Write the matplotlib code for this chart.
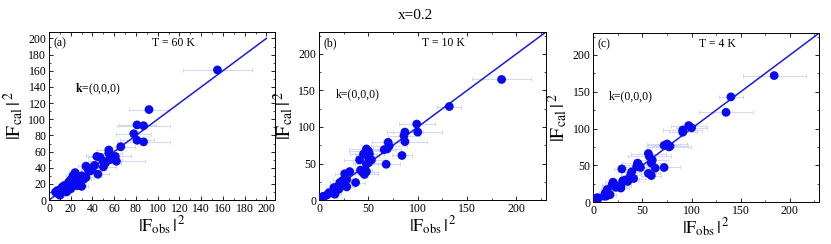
import matplotlib.pyplot as plt
from matplotlib.ticker import AutoMinorLocator

plt.rcParams['font.family'] = ['Liberation Serif', 'DejaVu Serif']
plt.rcParams['mathtext.fontset'] = 'stix'

# panel (a) T = 60 K
obs_a = [155, 92, 81, 87, 78, 81, 87, 66, 55, 55, 61, 62, 44, 47, 50, 52, 56, 50, 45,
         42, 40, 38, 34, 36, 24, 22, 26, 30, 28, 20, 18, 22, 25, 28, 30, 15, 12, 10,
         8, 6, 10, 14, 17, 20, 12, 24, 32, 34, 18, 8, 16, 26]
cal_a = [161, 112, 93, 92, 82, 74, 72, 66, 62, 58, 54, 48, 54, 53, 48, 46, 50, 41, 32,
         43, 40, 36, 42, 38, 34, 30, 28, 30, 22, 25, 22, 20, 18, 18, 17, 15, 12, 10,
         8, 10, 6, 18, 12, 14, 16, 24, 26, 28, 18, 12, 10, 22]
err_a = [32, 18, 17, 24, 16, 16, 24, 13, 11, 12, 14, 26, 10, 11, 12, 14, 11, 12, 10,
         9, 8, 8, 7, 7, 6, 6, 6, 7, 6, 5, 5, 5, 6, 6, 6, 5, 4, 4,
         4, 4, 4, 4, 5, 5, 4, 6, 7, 7, 4, 4, 4, 6]

# panel (b) T = 10 K
obs_b = [185, 132, 99, 100, 87, 86, 87, 84, 70, 71, 69, 66, 68, 48, 50, 51, 49, 53, 50,
         48, 45, 41, 42, 44, 46, 48, 37, 31, 26, 28, 24, 21, 28, 25, 18, 15, 17, 16,
         13, 10, 8, 5, 3, 4, 20]
cal_b = [165, 128, 104, 93, 93, 88, 80, 61, 79, 74, 70, 69, 49, 70, 67, 63, 60, 55, 51,
         49, 63, 55, 41, 38, 35, 39, 24, 39, 36, 28, 27, 24, 18, 20, 18, 17, 12, 8,
         10, 10, 7, 5, 3, 5, 15]
err_b = [30, 12, 18, 25, 18, 16, 22, 10, 16, 18, 14, 12, 14, 18, 20, 15, 12, 14, 16,
         12, 14, 16, 12, 12, 14, 12, 10, 10, 10, 10, 10, 10, 8, 8, 8, 8, 6, 6,
         6, 6, 5, 4, 3, 3, 8]

# panel (c) T = 4 K
obs_c = [184, 140, 135, 97, 100, 91, 91, 75, 72, 77, 78, 56, 57, 60, 59, 56, 59, 63, 72,
         45, 44, 48, 46, 39, 38, 41, 36, 33, 30, 35, 29, 28, 28, 25, 20, 19, 23,
         14, 12, 17, 13, 11, 5, 4]
cal_c = [172, 143, 122, 104, 101, 98, 95, 79, 77, 75, 76, 66, 62, 57, 53, 39, 36, 46, 47,
         53, 48, 47, 51, 41, 37, 32, 31, 30, 29, 28, 45, 22, 19, 22, 27, 23, 20,
         17, 12, 10, 8, 8, 5, 6]
err_c = [32, 12, 27, 18, 16, 20, 14, 20, 16, 22, 18, 18, 22, 16, 14, 12, 10, 12, 16,
         16, 14, 12, 18, 10, 10, 12, 10, 10, 8, 10, 8, 10, 8, 8, 8, 10, 8,
         6, 6, 6, 5, 5, 3, 3]

panels = [
    dict(obs=obs_a, cal=cal_a, err=err_a, lim=208, line_end=200, ticks=range(0, 201, 20),
         tag='(a)', temp='T = 60 K', bold_k=True, pos=[0.059, 0.180, 0.272, 0.689],
         kxy=(0.115, 0.66)),
    dict(obs=obs_b, cal=cal_b, err=err_b, lim=230, line_end=230, ticks=range(0, 201, 50),
         tag='(b)', temp='T = 10 K', bold_k=False, pos=[0.384, 0.180, 0.273, 0.689],
         kxy=(0.075, 0.63)),
    dict(obs=obs_c, cal=cal_c, err=err_c, lim=230, line_end=230, ticks=range(0, 201, 50),
         tag='(c)', temp='T = 4 K', bold_k=False, pos=[0.714, 0.172, 0.272, 0.693],
         kxy=(0.07, 0.627)),
]

fig = plt.figure(figsize=(8.31, 2.44), dpi=100)
fig.text(0.5, 0.935, 'x=0.2', ha='center', va='center', fontsize=11)

for p in panels:
    ax = fig.add_axes(p['pos'])
    ax.errorbar(p['obs'], p['cal'], xerr=p['err'], fmt='none', ecolor='#ccd0f6',
                elinewidth=0.6, capsize=1.5, capthick=0.6, zorder=1)
    ax.plot([0, p['line_end']], [0, p['line_end']], color='#1a1ae6', lw=1.1, zorder=2)
    ax.scatter(p['obs'], p['cal'], s=40, color='#0a0af0', edgecolors='none', zorder=3)
    ax.set_xlim(0, p['lim'])
    ax.set_ylim(0, p['lim'])
    ax.set_xticks(list(p['ticks']))
    ax.set_yticks(list(p['ticks']))
    ax.xaxis.set_minor_locator(AutoMinorLocator(2))
    ax.yaxis.set_minor_locator(AutoMinorLocator(2))
    ax.tick_params(which='both', direction='in', top=True, right=True, labelsize=8.5, pad=2)
    ax.tick_params(which='major', length=3, width=0.6)
    ax.tick_params(which='minor', length=1.5, width=0.5)
    for s in ax.spines.values():
        s.set_linewidth(0.7)
    ax.set_xlabel(r'$|\mathrm{F}_{\mathrm{obs}}\,|^{\,2}$', fontsize=13, labelpad=0)
    ax.set_ylabel(r'$|\mathrm{F}_{\mathrm{cal}}\,|^{\,2}$', fontsize=14, labelpad=2)
    ax.text(0.02, 0.935, p['tag'], transform=ax.transAxes, fontsize=8.5, va='center')
    ax.text(0.55, 0.935, p['temp'], transform=ax.transAxes, fontsize=8.5,
            ha='center', va='center')
    if p['bold_k']:
        ax.text(p['kxy'][0], p['kxy'][1], r'$\mathbf{k}$=(0,0,0)', transform=ax.transAxes,
                fontsize=8.5, va='center')
    else:
        ax.text(p['kxy'][0], p['kxy'][1], 'k=(0,0,0)', transform=ax.transAxes,
                fontsize=8.5, va='center')

fig.savefig('out.png', dpi=100)
